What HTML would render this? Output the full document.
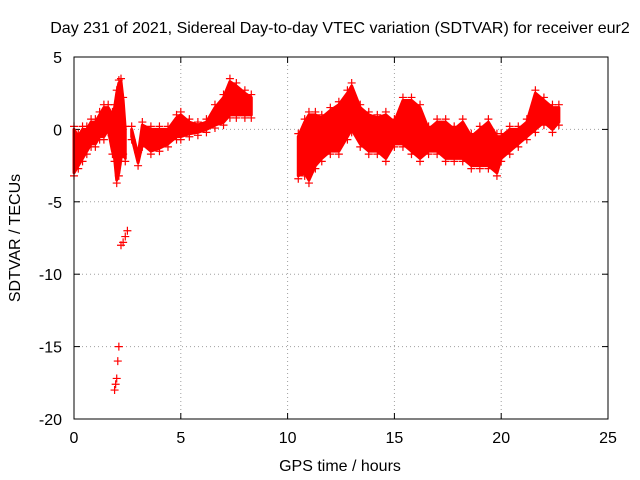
<!DOCTYPE html>
<html><head><meta charset="utf-8"><style>
body{margin:0;background:#fff;}
svg{display:block;font-family:"Liberation Sans",sans-serif;}
</style></head><body>
<svg id="chart" width="640" height="480">
<text x="340" y="33" font-size="16" text-anchor="middle">Day 231 of 2021, Sidereal Day-to-day VTEC variation (SDTVAR) for receiver eur2</text>
<text x="340" y="471" font-size="16" text-anchor="middle">GPS time / hours</text>
<text x="20" y="238" font-size="16" text-anchor="middle" transform="rotate(-90 20 238)">SDTVAR / TECUs</text>
<g id="grid"></g>
<g id="ticks"></g>
<g id="marks"></g>
<rect x="74" y="57" width="534" height="362" fill="none" stroke="#000" stroke-width="1"/>
</svg>
<script>
const xTicks=[0,5,10,15,20,25];
const yTicks=[5,0,-5,-10,-15,-20];
const segTimes=[
[0.0,0.2,0.4,0.6,0.8,1.0,1.2,1.4,1.6,1.8,1.9,2.0,2.1,2.2,2.3,2.4],
[2.7,3.0,3.2,3.6,4.0,4.4,4.8,5.0,5.4,5.8,6.2,6.6,7.0,7.3,7.6,8.0,8.3],
[10.5,10.8,11.0,11.3,11.6,12.0,12.4,12.8,13.0,13.4,13.8,14.2,14.6,15.0,15.4,15.8,16.2,16.6,17.0,17.4,17.8,18.2,18.6,19.0,19.4,19.8,20.0,20.4,20.8,21.2,21.6,22.0,22.4,22.7]];
const segLow=[
[-3,-2.5,-2,-1.5,-1,-1,-0.5,-0.5,0,-1.5,-2,-3.5,-3,-2,-1.5,-2],
[-0.5,-2.3,-1,-1.5,-1.3,-1,-0.5,-0.5,-0.3,-0.2,0,0.3,0.5,1,1,1,1],
[-3.2,-3,-3.5,-2.5,-2,-1.5,-1.5,-0.5,0,-1,-1.5,-1.5,-2,-1,-1,-1.5,-2,-1.5,-1.5,-2,-2,-2,-2.5,-2.5,-2.5,-3,-2,-1.5,-1,-0.5,0,0.5,0,0.5]];
const segHigh=[
[0,-0.5,0,0,0.5,0.5,1,1.5,1.5,1,1.5,2.5,3.2,3.3,2,0],
[0,-1.8,0.3,0,0,0,0.8,1,0.5,0.3,0.5,1.5,2.2,3.3,3,2.5,2.2],
[-0.5,0.5,1,1,0.8,1.3,1.7,2.5,3,1.5,1,0.8,1,0.5,2,2,1.5,0,0.5,0.5,0,0.5,-0.5,0,0.5,-0.5,-0.5,0,0,0.5,2.5,2,1.5,1.5]];
const outT=[1.9,1.95,2.0,2.05,2.1,2.2,2.3,2.4,2.5];
const outV=[-18,-17.6,-17.2,-16,-15,-8,-7.8,-7.4,-7];
const X=t=>74+t*534/25, Y=v=>57+(5-v)*362/25;
const NS='http://www.w3.org/2000/svg';
function mk(tag,attrs,parent){const e=document.createElementNS(NS,tag);for(const k in attrs)e.setAttribute(k,attrs[k]);parent.appendChild(e);return e;}
const grid=document.getElementById('grid'),ticks=document.getElementById('ticks'),marks=document.getElementById('marks');
xTicks.forEach(t=>{const x=X(t);
 if(t>0&&t<25){const g=mk('line',{x1:x,x2:x,y1:57,y2:419,stroke:'#a0a0a0','stroke-dasharray':'1,3'},grid);}
 mk('line',{x1:x,x2:x,y1:419,y2:413,stroke:'#000'},ticks);mk('line',{x1:x,x2:x,y1:57,y2:63,stroke:'#000'},ticks);
 const l=mk('text',{x:x,y:443,'font-size':16,'text-anchor':'middle'},ticks);l.textContent=t;
 });
yTicks.forEach(v=>{const y=Y(v);
 if(v<5&&v>-20){const g=mk('line',{x1:74,x2:608,y1:y,y2:y,stroke:'#a0a0a0','stroke-dasharray':'1,3'},grid);}
 mk('line',{x1:74,x2:80,y1:y,y2:y,stroke:'#000'},ticks);mk('line',{x1:608,x2:602,y1:y,y2:y,stroke:'#000'},ticks);
 const l=mk('text',{x:62,y:y+6,'font-size':16,'text-anchor':'end'},ticks);l.textContent=v;
 });
function plus(x,y){const p=mk('path',{d:`M${x-4},${y}h8M${x},${y-4}v8`,stroke:'#f00','stroke-width':1.2,fill:'none'},marks);
 }
segTimes.forEach((ts,i)=>{
 let d='M'+ts.map((t,j)=>X(t)+','+Y(segHigh[i][j])).join('L');
 for(let j=ts.length-1;j>=0;j--)d+='L'+X(ts[j])+','+Y(segLow[i][j]);
 const b=mk('path',{d:d+'Z',fill:'#f00',stroke:'#f00','stroke-width':3,'stroke-linejoin':'round'},marks);
 
 ts.forEach((t,j)=>{plus(X(t),Y(segHigh[i][j])-3);plus(X(t),Y(segLow[i][j])+3);});
});
outT.forEach((t,i)=>plus(X(t),Y(outV[i])));
</script>
</body></html>
